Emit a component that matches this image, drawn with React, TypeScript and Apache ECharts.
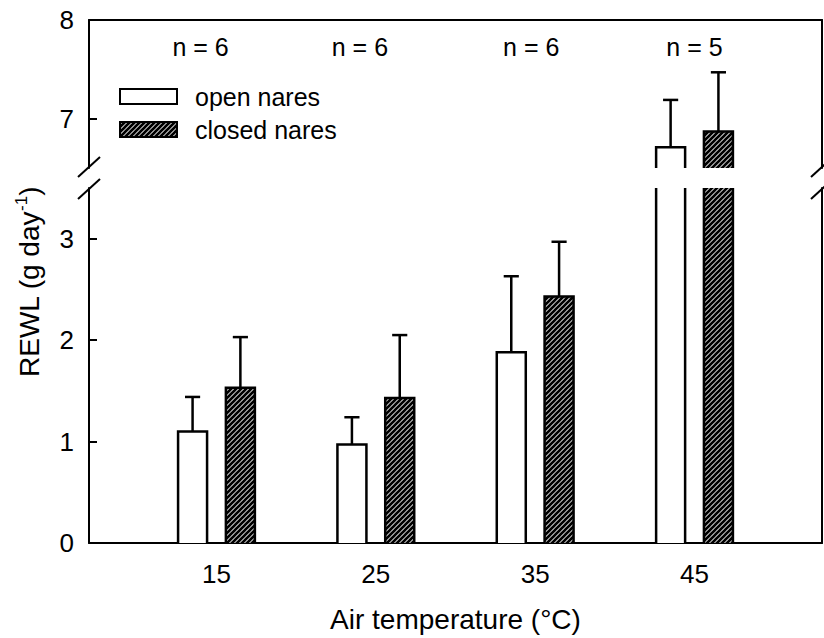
import React, { useEffect, useRef } from "react";
import * as echarts from "echarts";

// ---------- data ----------
const temperatures = [15, 25, 35, 45];
const openMean = [1.1, 0.97, 1.88, 6.71];
const openErr = [0.34, 0.27, 0.75, 0.48];
const closedMean = [1.53, 1.43, 2.43, 6.87];
const closedErr = [0.5, 0.62, 0.54, 0.6];
const nLabels = ["n = 6", "n = 6", "n = 6", "n = 5"];
const nLabelX = [14, 24, 34.75, 45];
const nLabelY = 7.73;
const lowerTicks = [0, 1, 2, 3];
const upperTicks = [7, 8];
const seriesNames = ["open nares", "closed nares"];

// ---------- layout / style ----------
const FONT = "'Liberation Sans', Arial, Helvetica, sans-serif";
const GRID_LEFT = 89;
const GRID_RIGHT = 2;
const UP_TOP = 20;
const UP_H = 148;
const LO_TOP = 188;
const LO_BOTTOM = 92;
const X_MIN = 7;
const X_MAX = 53;
const BAR_OFFSET = 1.5; // data units
const BAR_WIDTH = 1.82; // data units
const CAP_WIDTH = 0.95; // data units
const LW = 2.5;

const hatchSvg =
  "<svg xmlns='http://www.w3.org/2000/svg' width='5' height='5'>" +
  "<rect width='5' height='5' fill='white'/>" +
  "<path d='M-1,1 L1,-1 M0,5 L5,0 M4,6 L6,4' stroke='black' stroke-width='2.7'/></svg>";
const hatch: any = {
  image: "data:image/svg+xml;charset=utf-8," + encodeURIComponent(hatchSvg),
  repeat: "repeat",
  imageWidth: 5,
  imageHeight: 5,
};

function makeBarRenderer(fill: any, offset: number) {
  return (params: any, api: any) => {
    const cs = params.coordSys;
    const x = api.value(0);
    const mean = api.value(1);
    const err = api.value(2);
    const cx = api.coord([x + offset, mean])[0];
    const halfW = api.size([BAR_WIDTH, 0])[0] / 2;
    const capHalf = api.size([CAP_WIDTH, 0])[0] / 2;
    const topPx = api.coord([x, mean])[1];
    const basePx = api.coord([x, 0])[1];
    const errPx = api.coord([x, mean + err])[1];
    const gTop = cs.y;
    const gBot = cs.y + cs.height;
    const l = cx - halfW;
    const r = cx + halfW;
    const children: any[] = [];
    const y1 = Math.max(topPx, gTop);
    const y2 = Math.min(basePx, gBot);
    if (y2 > y1) {
      children.push({
        type: "rect",
        shape: { x: l, y: y1, width: r - l, height: y2 - y1 },
        style: { fill, stroke: null },
      });
      if (topPx >= gTop) {
        children.push({
          type: "polyline",
          shape: { points: [[l, y2], [l, y1], [r, y1], [r, y2]] },
          style: { stroke: "#000", lineWidth: LW, fill: null },
        });
      } else {
        children.push({
          type: "line",
          shape: { x1: l, y1: y1, x2: l, y2: y2 },
          style: { stroke: "#000", lineWidth: LW },
        });
        children.push({
          type: "line",
          shape: { x1: r, y1: y1, x2: r, y2: y2 },
          style: { stroke: "#000", lineWidth: LW },
        });
      }
    }
    const e1 = Math.max(errPx, gTop);
    const e2 = Math.min(topPx, gBot);
    if (e2 > e1) {
      children.push({
        type: "line",
        shape: { x1: cx, y1: e1, x2: cx, y2: e2 },
        style: { stroke: "#000", lineWidth: LW },
      });
    }
    if (errPx >= gTop && errPx <= gBot) {
      children.push({
        type: "line",
        shape: { x1: cx - capHalf, y1: errPx, x2: cx + capHalf, y2: errPx },
        style: { stroke: "#000", lineWidth: LW },
      });
    }
    return { type: "group", children };
  };
}

export default function App() {
  const ref = useRef<HTMLDivElement>(null);
  useEffect(() => {
    if (!ref.current) return;
    const chart = echarts.init(ref.current, null, { renderer: "svg" });

    const openData = temperatures.map((t, i) => [t, openMean[i], openErr[i]]);
    const closedData = temperatures.map((t, i) => [t, closedMean[i], closedErr[i]]);
    const nData = nLabelX.map((x) => [x, nLabelY]);

    const axisLine = { show: true, onZero: false, lineStyle: { color: "#000", width: 2 } };
    const tickLabel = { color: "#000", fontSize: 26, fontFamily: FONT };

    const upBottom = UP_TOP + UP_H;
    const breaks: any[] = [];
    const xs = [GRID_LEFT, 824 - GRID_RIGHT];
    xs.forEach((bx) => {
      [upBottom - 1, LO_TOP + 1].forEach((by) => {
        breaks.push({
          type: "line",
          shape: { x1: bx - 11, y1: by + 10, x2: bx + 11, y2: by - 10 },
          style: { stroke: "#000", lineWidth: 2 },
          z: 10,
        });
      });
    });

    const option: any = {
      animation: false,
      grid: [
        { left: GRID_LEFT, right: GRID_RIGHT, top: UP_TOP, height: UP_H },
        { left: GRID_LEFT, right: GRID_RIGHT, top: LO_TOP, bottom: LO_BOTTOM },
      ],
      xAxis: [
        {
          type: "value",
          gridIndex: 0,
          position: "top",
          min: X_MIN,
          max: X_MAX,
          axisLine,
          axisTick: { show: false },
          axisLabel: { show: false },
          splitLine: { show: false },
        },
        {
          type: "value",
          gridIndex: 1,
          position: "bottom",
          min: X_MIN,
          max: X_MAX,
          axisLine,
          axisTick: { show: false },
          axisLabel: { ...tickLabel, margin: 18, customValues: temperatures },
          splitLine: { show: false },
          name: "Air temperature (°C)",
          nameLocation: "middle",
          nameGap: 62,
          nameTextStyle: { color: "#000", fontSize: 28, fontFamily: FONT },
        },
      ],
      yAxis: [
        {
          type: "value",
          gridIndex: 0,
          position: "left",
          min: 6.5,
          max: 8,
          axisLine,
          axisTick: { show: true, inside: true, length: 8, lineStyle: { color: "#000", width: 2 }, customValues: upperTicks },
          axisLabel: { ...tickLabel, margin: 15, customValues: upperTicks },
          splitLine: { show: false },
        },
        {
          type: "value",
          gridIndex: 0,
          position: "right",
          min: 6.5,
          max: 8,
          axisLine,
          axisTick: { show: false },
          axisLabel: { show: false },
          splitLine: { show: false },
        },
        {
          type: "value",
          gridIndex: 1,
          position: "left",
          min: 0,
          max: 3.5,
          axisLine,
          axisTick: { show: true, inside: true, length: 8, lineStyle: { color: "#000", width: 2 }, customValues: lowerTicks },
          axisLabel: { ...tickLabel, margin: 15, customValues: lowerTicks },
          splitLine: { show: false },
        },
        {
          type: "value",
          gridIndex: 1,
          position: "right",
          min: 0,
          max: 3.5,
          axisLine,
          axisTick: { show: false },
          axisLabel: { show: false },
          splitLine: { show: false },
        },
      ],
      legend: {
        data: [
          { name: seriesNames[0], icon: "rect", itemStyle: { color: "#fff", borderColor: "#000", borderWidth: 2 } },
          { name: seriesNames[1], icon: "rect", itemStyle: { color: hatch, borderColor: "#000", borderWidth: 2 } },
        ],
        orient: "vertical",
        left: 114,
        top: 79,
        itemWidth: 57,
        itemHeight: 15,
        itemGap: 8,
        selectedMode: false,
        textStyle: { color: "#000", fontSize: 25, fontFamily: FONT, lineHeight: 25, padding: [0, 0, 0, 13] },
      },
      graphic: [
        {
          type: "text",
          x: 29,
          y: 282,
          rotation: Math.PI / 2,
          style: {
            text: "{m|REWL (g day}{s|-1}{m|)}",
            align: "center",
            verticalAlign: "middle",
            fill: "#000",
            rich: {
              m: { fontSize: 28, lineHeight: 32, fontFamily: FONT, fill: "#000" },
              s: { fontSize: 17, lineHeight: 20, verticalAlign: "top", fontFamily: FONT, fill: "#000" },
            },
          },
        },
        ...breaks,
      ],
      series: [
        {
          type: "custom",
          name: seriesNames[0],
          xAxisIndex: 1,
          yAxisIndex: 2,
          itemStyle: { color: "#fff", borderColor: "#000", borderWidth: 2 },
          renderItem: makeBarRenderer("#fff", -BAR_OFFSET),
          data: openData,
        },
        {
          type: "custom",
          name: seriesNames[0],
          xAxisIndex: 0,
          yAxisIndex: 0,
          itemStyle: { color: "#fff", borderColor: "#000", borderWidth: 2 },
          renderItem: makeBarRenderer("#fff", -BAR_OFFSET),
          data: openData,
        },
        {
          type: "custom",
          name: seriesNames[1],
          xAxisIndex: 1,
          yAxisIndex: 2,
          itemStyle: { color: hatch, borderColor: "#000", borderWidth: 2 },
          renderItem: makeBarRenderer(hatch, BAR_OFFSET),
          data: closedData,
        },
        {
          type: "custom",
          name: seriesNames[1],
          xAxisIndex: 0,
          yAxisIndex: 0,
          itemStyle: { color: hatch, borderColor: "#000", borderWidth: 2 },
          renderItem: makeBarRenderer(hatch, BAR_OFFSET),
          data: closedData,
        },
        {
          type: "custom",
          name: "n",
          xAxisIndex: 0,
          yAxisIndex: 0,
          renderItem: (params: any, api: any) => {
            const p = api.coord([api.value(0), api.value(1)]);
            return {
              type: "text",
              x: p[0],
              y: p[1],
              style: {
                text: nLabels[params.dataIndex],
                align: "center",
                verticalAlign: "middle",
                fontSize: 25,
                fontFamily: FONT,
                fill: "#000",
              },
            };
          },
          data: nData,
        },
      ],
    };
    chart.setOption(option);
    return () => chart.dispose();
  }, []);

  return (
    <div
      ref={ref}
      style={{ position: "fixed", left: 0, top: 0, width: 824, height: 638, background: "#fff" }}
    />
  );
}
